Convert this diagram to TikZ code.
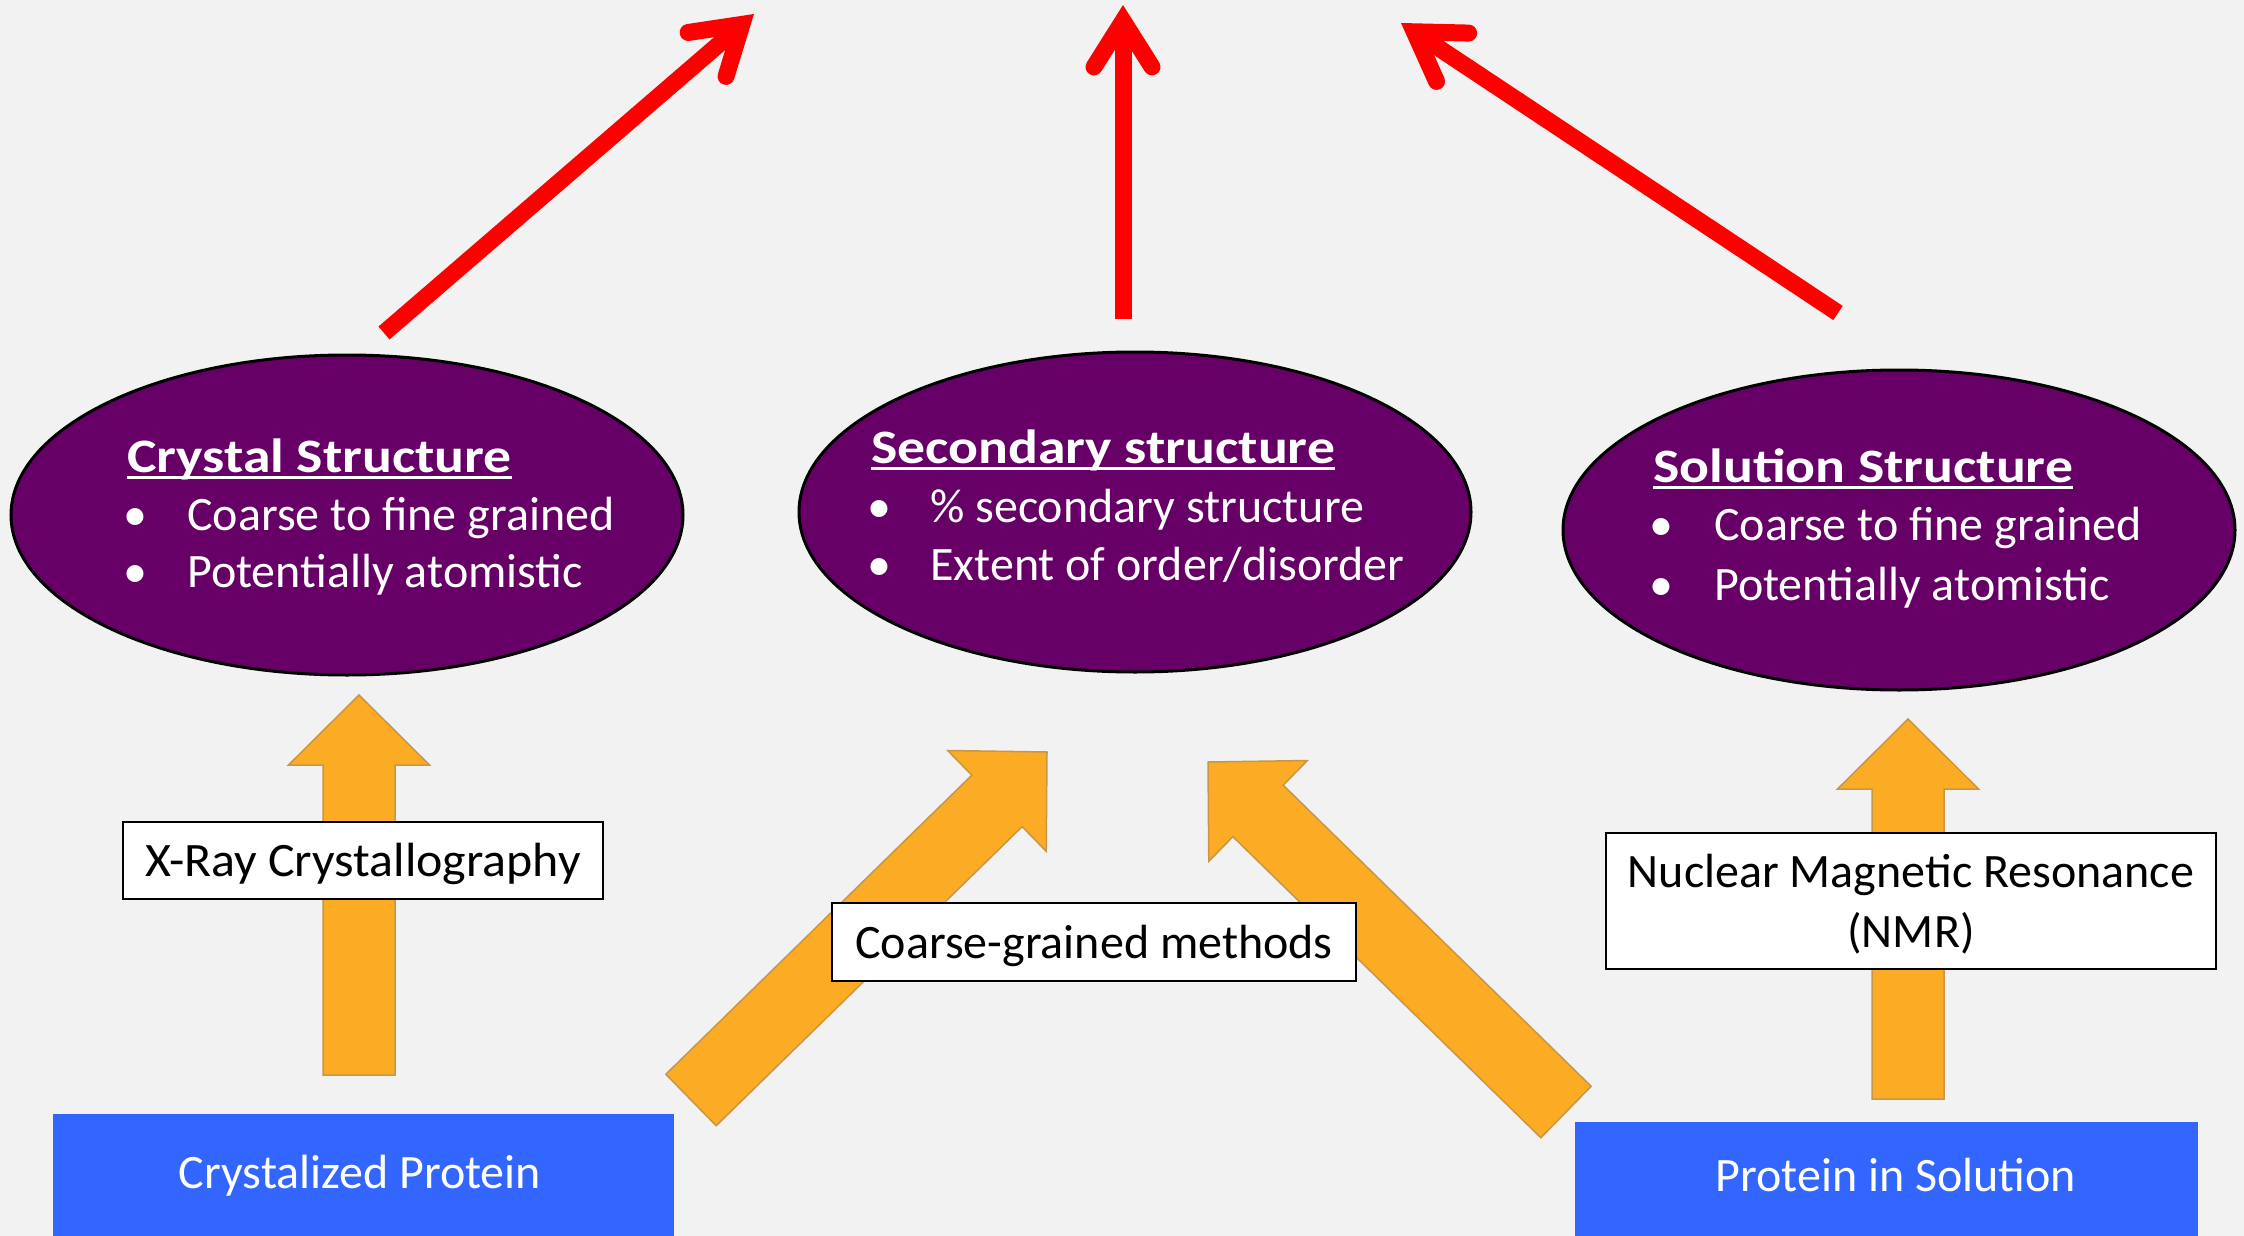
\documentclass[tikz,border=0pt]{standalone}
\usepackage{fontspec}
\setmainfont{Carlito}
\usetikzlibrary{shapes.geometric,arrows.meta,calc}
\definecolor{bg}{RGB}{242,242,242}
\definecolor{purp}{RGB}{102,0,102}
\definecolor{blu}{RGB}{51,102,255}
\definecolor{orf}{RGB}{251,172,36}
\definecolor{ord}{RGB}{200,150,70}
\definecolor{redl}{RGB}{255,0,0}
\newcommand{\blockarr}[2]{%
  \coordinate (hb) at ($(#2)!70pt!(#1)$);
  \draw[blockarrow] ($(#1)!36pt!90:(#2)$) -- ($(hb)!36pt!90:(#2)$) -- ($(hb)!70.5pt!90:(#2)$) -- (#2)
     -- ($(hb)!70.5pt!-90:(#2)$) -- ($(hb)!36pt!-90:(#2)$) -- ($(#1)!36pt!-90:(#2)$) -- cycle;}
\begin{document}
\begin{tikzpicture}[x=1pt,y=-1pt,
  oval/.style={ellipse, draw=black, line width=3pt, fill=purp, minimum width=672pt, minimum height=320pt, inner sep=0pt},
  wtxt/.style={text=white, inner sep=0pt, anchor=base west, font=\fontsize{48}{58}\selectfont},
  ttl/.style={text=white, inner sep=0pt, anchor=base west, font=\fontsize{48}{58}\selectfont\bfseries\addfontfeatures{FakeStretch=1.16}},
  bul/.style={text=white, inner sep=0pt, anchor=base, font=\fontsize{48}{58}\selectfont},
  btxt/.style={text=black, inner sep=0pt, anchor=base, font=\fontsize{48}{58}\selectfont},
  uline/.style={draw=white, line width=3pt},
  lbl/.style={draw=black, line width=2pt, fill=white, inner sep=0pt, text height=38pt, text depth=6pt, font=\fontsize{48}{60}\selectfont},
  lblbox/.style={draw=black, line width=2pt, fill=white, inner sep=0pt},
  source/.style={fill=blu, inner sep=0pt, anchor=north west},
  redarrow/.style={draw=redl, line width=17pt, -{Straight Barb[length=46pt,width=58pt,line cap=round,line join=miter]}},
  blockarrow/.style={fill=orf, draw=ord, line width=1.5pt, line join=miter}
]
\useasboundingbox (0,0) rectangle (2244,1236);
\fill[bg] (0,0) rectangle (2244,1236);

% red arrows
\coordinate (r1s) at (384,333); \coordinate (r1e) at (754,14);
\coordinate (r2s) at (1123,319); \coordinate (r2e) at (1123,5);
\coordinate (r3s) at (1838,313); \coordinate (r3e) at (1401,23);
\draw[redarrow] (r1s) -- (r1e);
\draw[redarrow] (r2s) -- (r2e);
\draw[redarrow] (r3s) -- (r3e);

% ellipses
\node[oval] (e1) at (347,515) {};
\node[oval] (e2) at (1135,512) {};
\node[oval] (e3) at (1899,530) {};

\node[ttl] (t1) at (127,472) {Crystal Structure};
\draw[uline] ([yshift=-5pt]t1.base west) -- ([yshift=-5pt]t1.base east);
\node[bul] (b1a) at (135,530) {•};
\node[wtxt] (l1a) at (187,530) {Coarse to fine grained};
\node[bul] (b1b) at (135,587) {•};
\node[wtxt] (l1b) at (187,587) {Potentially atomistic};

\node[ttl] (t2) at (871,463) {Secondary structure};
\draw[uline] ([yshift=-5pt]t2.base west) -- ([yshift=-5pt]t2.base east);
\node[bul] (b2a) at (879,522) {•};
\node[wtxt] (l2a) at (930,522) {\% secondary structure};
\node[bul] (b2b) at (879,580) {•};
\node[wtxt] (l2b) at (930,580) {Extent of order/disorder};

\node[ttl] (t3) at (1653,482) {Solution Structure};
\draw[uline] ([yshift=-5pt]t3.base west) -- ([yshift=-5pt]t3.base east);
\node[bul] (b3a) at (1661,540) {•};
\node[wtxt] (l3a) at (1714,540) {Coarse to fine grained};
\node[bul] (b3b) at (1661,600) {•};
\node[wtxt] (l3b) at (1714,600) {Potentially atomistic};

% orange block arrows
\coordinate (o1s) at (359,1075); \coordinate (o1e) at (359,695);
\coordinate (o2s) at (691,1100); \coordinate (o2e) at (1047,752);
\coordinate (o3s) at (1566,1112); \coordinate (o3e) at (1208,762);
\coordinate (o4s) at (1908,1099); \coordinate (o4e) at (1908,719);
\blockarr{o1s}{o1e}
\blockarr{o2s}{o2e}
\blockarr{o3s}{o3e}
\blockarr{o4s}{o4e}

% labels
\node[lbl, minimum width=480pt, minimum height=77pt, font=\fontsize{48}{60}\selectfont\addfontfeatures{FakeStretch=1.04}] (xr) at (363,860.5) {X-Ray Crystallography};
\node[lbl, minimum width=524pt, minimum height=78pt] (cg) at (1094,942) {Coarse-grained methods};
\node[lblbox, minimum width=610pt, minimum height=136pt] (nmr) at (1911,901) {};
\node[btxt] (nmr1) at (1911,887) {Nuclear Magnetic Resonance};
\node[btxt] (nmr2) at (1911,947) {(NMR)};

% source boxes
\node[source, minimum width=621pt, minimum height=122pt] (p1) at (53,1114) {};
\node[bul] (p1t) at (360,1188) {Crystalized Protein};
\node[source, minimum width=623pt, minimum height=114pt] (p2) at (1575,1122) {};
\node[bul] (p2t) at (1896,1191) {Protein in Solution};
\end{tikzpicture}
\end{document}
